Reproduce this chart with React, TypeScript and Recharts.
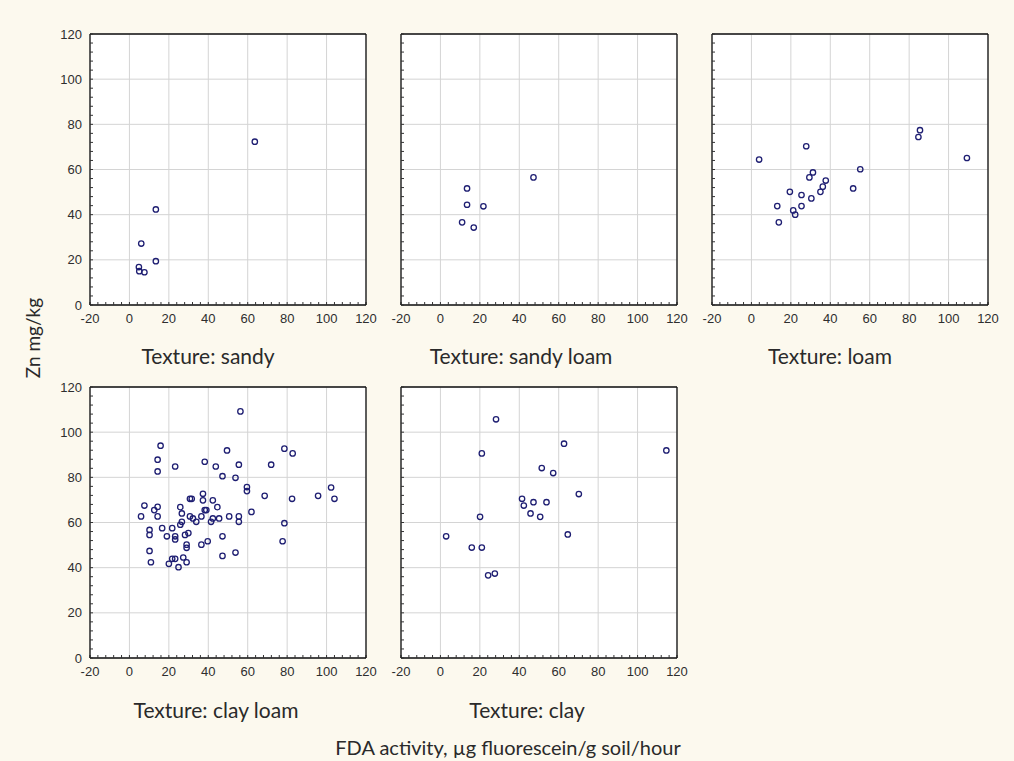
import React from "react";
import { ScatterChart, Scatter, XAxis, YAxis, CartesianGrid } from "recharts";

// axis ticks
const xTicks = [-20, 0, 20, 40, 60, 80, 100, 120];
const yTicks = [0, 20, 40, 60, 80, 100, 120];
const xMinor = [
  -20, -16, -12, -8, -4, 0, 4, 8, 12, 16, 20, 24, 28, 32, 36, 40, 44, 48, 52, 56,
  60, 64, 68, 72, 76, 80, 84, 88, 92, 96, 100, 104, 108, 112, 116, 120,
];
const yMinor = [
  0, 4, 8, 12, 16, 20, 24, 28, 32, 36, 40, 44, 48, 52, 56, 60, 64, 68, 72, 76, 80,
  84, 88, 92, 96, 100, 104, 108, 112, 116, 120,
];

// FDA activity (x) vs Zn mg/kg (y), per soil texture
const sandy = [
  { x: 4.8, y: 16.8 }, { x: 5, y: 15 }, { x: 7.6, y: 14.5 }, { x: 6, y: 27.2 },
  { x: 13.4, y: 19.4 }, { x: 13.4, y: 42.3 }, { x: 63.6, y: 72.3 },
];

const sandyLoam = [
  { x: 47.2, y: 56.5 }, { x: 13.5, y: 51.6 }, { x: 13.5, y: 44.4 },
  { x: 21.8, y: 43.7 }, { x: 11, y: 36.6 }, { x: 16.9, y: 34.3 },
];

const loam = [
  { x: 3.9, y: 64.4 }, { x: 27.8, y: 70.3 }, { x: 13.1, y: 43.8 }, { x: 13.9, y: 36.6 },
  { x: 19.5, y: 50.1 }, { x: 21.2, y: 41.9 }, { x: 22.2, y: 40 }, { x: 25.4, y: 48.7 },
  { x: 25.4, y: 43.8 }, { x: 29.4, y: 56.5 }, { x: 31.2, y: 58.7 }, { x: 30.4, y: 47.2 },
  { x: 35, y: 50.1 }, { x: 36.2, y: 52.4 }, { x: 37.7, y: 55.1 }, { x: 51.6, y: 51.6 },
  { x: 55.2, y: 60.1 }, { x: 84.7, y: 74.4 }, { x: 85.5, y: 77.4 }, { x: 109.3, y: 65.1 },
];

const clayLoam = [
  { x: 56.3, y: 109.2 }, { x: 15.8, y: 94 }, { x: 14.3, y: 87.8 }, { x: 14.3, y: 82.6 },
  { x: 23.2, y: 84.8 }, { x: 38.2, y: 86.9 }, { x: 49.5, y: 91.9 }, { x: 43.8, y: 84.8 },
  { x: 47.2, y: 80.5 }, { x: 55.5, y: 85.6 }, { x: 53.8, y: 79.8 }, { x: 71.9, y: 85.6 },
  { x: 78.6, y: 92.7 }, { x: 82.8, y: 90.6 }, { x: 59.6, y: 75.7 }, { x: 59.6, y: 73.9 },
  { x: 68.6, y: 71.8 }, { x: 82.5, y: 70.5 }, { x: 95.7, y: 71.8 }, { x: 102.3, y: 75.5 },
  { x: 104, y: 70.5 }, { x: 61.9, y: 64.7 }, { x: 78.6, y: 59.7 }, { x: 77.7, y: 51.7 },
  { x: 55.5, y: 62.7 }, { x: 55.5, y: 60.3 }, { x: 50.6, y: 62.7 }, { x: 45.5, y: 61.8 },
  { x: 47.2, y: 53.9 }, { x: 47.2, y: 45.2 }, { x: 53.8, y: 46.7 }, { x: 42.3, y: 69.8 },
  { x: 44.6, y: 66.8 }, { x: 42.3, y: 61.8 }, { x: 41.4, y: 60.3 }, { x: 39.7, y: 51.7 },
  { x: 36.5, y: 50.2 }, { x: 37.3, y: 72.7 }, { x: 37.3, y: 69.8 }, { x: 38.2, y: 65.5 },
  { x: 39, y: 65.5 }, { x: 36.5, y: 62.7 }, { x: 33.9, y: 60.3 }, { x: 30.7, y: 70.5 },
  { x: 31.6, y: 70.5 }, { x: 30.7, y: 62.7 }, { x: 32.2, y: 61.8 }, { x: 29.9, y: 55.3 },
  { x: 28.2, y: 54.5 }, { x: 29, y: 50.2 }, { x: 29, y: 48.8 }, { x: 29, y: 42.4 },
  { x: 27.3, y: 44.5 }, { x: 24.9, y: 40.2 }, { x: 23.2, y: 43.9 }, { x: 21.7, y: 43.9 },
  { x: 20, y: 41.7 }, { x: 23.2, y: 53.9 }, { x: 23.2, y: 52.5 }, { x: 21.7, y: 57.5 },
  { x: 19, y: 53.9 }, { x: 16.6, y: 57.5 }, { x: 25.8, y: 66.8 }, { x: 26.6, y: 64 },
  { x: 26.6, y: 60.3 }, { x: 25.8, y: 59 }, { x: 14.3, y: 66.9 }, { x: 12.6, y: 65.5 },
  { x: 14.3, y: 62.7 }, { x: 7.6, y: 67.5 }, { x: 5.9, y: 62.7 }, { x: 10.2, y: 56.7 },
  { x: 10.2, y: 54.5 }, { x: 10.2, y: 47.4 }, { x: 10.9, y: 42.4 },
];

const clay = [
  { x: 28.2, y: 105.7 }, { x: 21, y: 90.6 }, { x: 62.7, y: 94.9 }, { x: 114.6, y: 91.9 },
  { x: 51.4, y: 84.1 }, { x: 57.2, y: 81.9 }, { x: 70.2, y: 72.6 }, { x: 41.4, y: 70.5 },
  { x: 42.3, y: 67.5 }, { x: 47.2, y: 69 }, { x: 53.8, y: 69 }, { x: 45.7, y: 64 },
  { x: 50.6, y: 62.5 }, { x: 20.1, y: 62.5 }, { x: 64.6, y: 54.7 }, { x: 2.9, y: 53.9 },
  { x: 15.9, y: 48.9 }, { x: 21, y: 48.9 }, { x: 24.2, y: 36.6 }, { x: 27.6, y: 37.4 },
];

const BG = "#fcf9ee";
const TICK_FONT = "'Liberation Sans', Arial, sans-serif";
const TITLE_FONT = "Lato, 'Open Sans', sans-serif";

const PLOT_W = 276;
const PLOT_H = 271;
const Y_W = 36;

const Dot = (props: any) => (
  <circle cx={props.cx} cy={props.cy} r={2.7} fill="none" stroke="#1e1e72" strokeWidth={1.3} />
);

function Panel({
  data,
  left,
  top,
  showY,
}: {
  data: { x: number; y: number }[];
  left: number;
  top: number;
  showY: boolean;
}) {
  const tickStyle = { fontSize: 13, fill: "#2e2e2e", fontFamily: TICK_FONT };
  return (
    <div style={{ position: "absolute", left: left - Y_W, top: top - 10 }}>
      <ScatterChart
        width={Y_W + PLOT_W + 1 + 10}
        height={10 + PLOT_H + 26}
        margin={{ top: 9, right: 10, bottom: 0, left: 0 }}
      >
        <CartesianGrid
          xAxisId="b"
          yAxisId="l"
          fill="#ffffff"
          stroke="#d4d4d4"
          verticalValues={xTicks}
          horizontalValues={yTicks}
        />
        <XAxis
          xAxisId="b"
          type="number"
          dataKey="x"
          domain={[-20, 120]}
          ticks={xMinor}
          interval={0}
          height={26}
          tickSize={-3}
          tickMargin={12}
          tickFormatter={(v: number) => (v % 20 === 0 ? String(v) : "")}
          axisLine={{ stroke: "#111", strokeWidth: 1.3 }}
          tickLine={{ stroke: "#333" }}
          tick={tickStyle}
        />
        <XAxis
          xAxisId="t"
          orientation="top"
          type="number"
          domain={[-20, 120]}
          ticks={xMinor}
          interval={0}
          height={1}
          tickSize={-3}
          tick={false}
          axisLine={{ stroke: "#111", strokeWidth: 1.3 }}
          tickLine={{ stroke: "#333" }}
        />
        <YAxis
          yAxisId="l"
          type="number"
          dataKey="y"
          domain={[0, 120]}
          ticks={yMinor}
          interval={0}
          width={Y_W}
          tickSize={-3}
          tickMargin={11}
          tickFormatter={(v: number) => (showY && v % 20 === 0 ? String(v) : "")}
          axisLine={{ stroke: "#111", strokeWidth: 1.3 }}
          tickLine={{ stroke: "#333" }}
          tick={tickStyle}
        />
        <YAxis
          yAxisId="r"
          orientation="right"
          type="number"
          domain={[0, 120]}
          ticks={yMinor}
          interval={0}
          width={1}
          tickSize={-3}
          tick={false}
          axisLine={{ stroke: "#111", strokeWidth: 1.3 }}
          tickLine={{ stroke: "#333" }}
        />
        <Scatter
          data={data}
          xAxisId="b"
          yAxisId="l"
          shape={Dot}
          isAnimationActive={false}
        />
      </ScatterChart>
    </div>
  );
}

function Title({ text, cx, cy, size }: { text: string; cx: number; cy: number; size: number }) {
  return (
    <div
      style={{
        position: "absolute",
        left: cx - 260,
        top: cy - 14,
        width: 520,
        height: 28,
        lineHeight: "28px",
        textAlign: "center",
        fontFamily: TITLE_FONT,
        fontSize: size,
        color: "#2a2a2a",
        whiteSpace: "nowrap",
      }}
    >
      {text}
    </div>
  );
}

export default function App() {
  return (
    <div
      style={{
        position: "absolute",
        left: 0,
        top: 0,
        width: 1014,
        height: 761,
        background: BG,
        overflow: "hidden",
      }}
    >
      <Panel data={sandy} left={90} top={34} showY />
      <Panel data={sandyLoam} left={401} top={34} showY={false} />
      <Panel data={loam} left={712} top={34} showY={false} />
      <Panel data={clayLoam} left={90} top={387} showY />
      <Panel data={clay} left={401} top={387} showY={false} />

      <Title text="Texture: sandy" cx={208} cy={356} size={21} />
      <Title text="Texture: sandy loam" cx={521} cy={356} size={21} />
      <Title text="Texture: loam" cx={830} cy={356} size={21} />
      <Title text="Texture: clay loam" cx={216} cy={710} size={21} />
      <Title text="Texture: clay" cx={527} cy={710} size={21} />
      <Title text="FDA activity, µg fluorescein/g soil/hour" cx={508} cy={747} size={20} />

      <div
        style={{
          position: "absolute",
          left: 33 - 70,
          top: 338 - 14,
          width: 140,
          height: 28,
          lineHeight: "28px",
          textAlign: "center",
          transform: "rotate(-90deg)",
          fontFamily: TITLE_FONT,
          fontSize: 19,
          color: "#2a2a2a",
        }}
      >
        Zn mg/kg
      </div>
    </div>
  );
}
